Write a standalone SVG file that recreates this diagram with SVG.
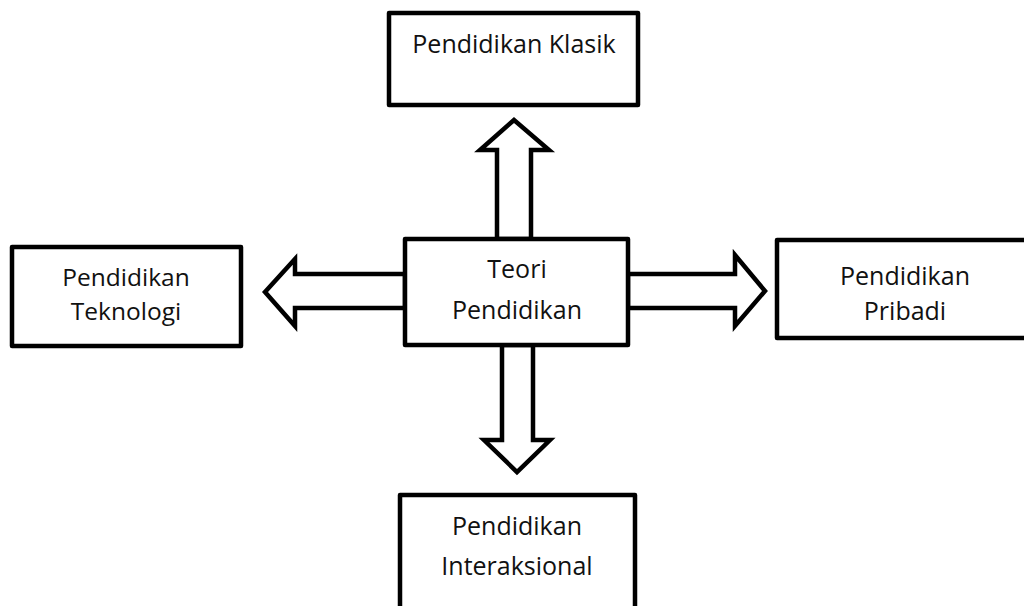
<svg xmlns="http://www.w3.org/2000/svg" width="1024" height="606" viewBox="0 0 1024 606">
<style>
.box{fill:#fff;stroke:#000;stroke-width:4.5;stroke-linejoin:round}
.arr{fill:#fff;stroke:#000;stroke-width:4.5;stroke-linejoin:miter}
text{font-family:"Open Sans","Noto Sans",sans-serif;font-size:25px;fill:#111;text-anchor:middle}
</style>
<rect width="1024" height="606" fill="#fff"/>
<g id="connectors">
<polygon class="arr" points="497,239 497,150 480,150 514,120 549,150 531,150 531,239"/>
<polygon class="arr" points="405,274 295,274 295,259 265,292 295,326 295,308 405,308"/>
<polygon class="arr" points="628,274 735,274 735,255 765,291 735,326 735,308 628,308"/>
<polygon class="arr" points="502,345 502,440 484,440 517,472 550,440 533,440 533,345"/>
</g>
<g id="klasik">
<rect class="box" x="389" y="13" width="249" height="92"/>
<text x="514" y="53">Pendidikan Klasik</text>
</g>
<g id="teori">
<rect class="box" x="405" y="239" width="223" height="106"/>
<text x="517" y="278">Teori</text>
<text x="517" y="319">Pendidikan</text>
</g>
<g id="teknologi">
<rect class="box" x="12" y="247" width="229" height="99"/>
<text x="126" y="286" style="font-size:24.5px">Pendidikan</text>
<text x="126" y="320" style="font-size:24.5px">Teknologi</text>
</g>
<g id="pribadi">
<rect class="box" x="777" y="240" width="260" height="98"/>
<text x="905" y="285">Pendidikan</text>
<text x="905" y="320">Pribadi</text>
</g>
<g id="interaksional">
<rect class="box" x="400" y="495" width="235" height="130"/>
<text x="517" y="535">Pendidikan</text>
<text x="517" y="575">Interaksional</text>
</g>
</svg>
